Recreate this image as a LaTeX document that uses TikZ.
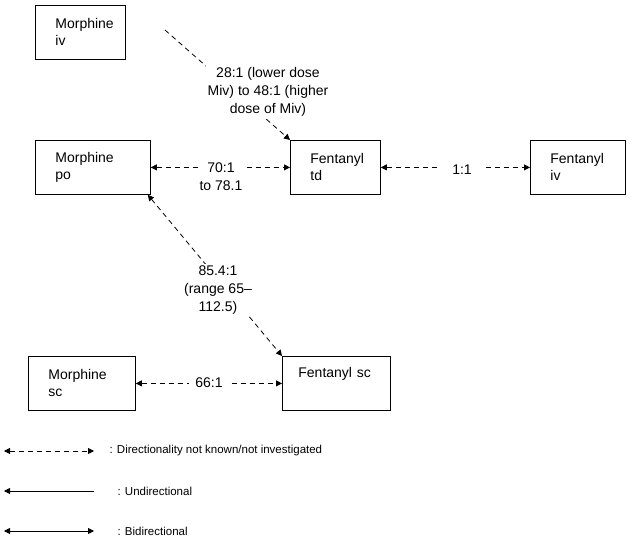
\documentclass[tikz,border=0pt]{standalone}
\usepackage{fontspec}
\setmainfont{Liberation Sans}
\usetikzlibrary{arrows.meta}
\tikzset{
 box/.style={draw, thick, minimum height=54pt, align=left, anchor=north west, font=\fontsize{14}{17}\selectfont, inner xsep=20pt},
 dashline/.style={thick, dash pattern=on 5pt off 4pt},
 lab/.style={fill=white, align=center, font=\fontsize{14}{18}\selectfont, inner sep=2pt},
 leg/.style={font=\fontsize{11.5}{14}\selectfont, anchor=west}
}
\begin{document}
\begin{tikzpicture}[x=1pt,y=-1pt,>={Triangle[length=6pt,width=6pt]}]
 \useasboundingbox (0,0) rectangle (638,538);
 % boxes
 \node[box, minimum width=90pt, text width=50pt] (miv) at (35,5) {Morphine\\iv};
 \node[box, minimum width=115pt, text width=75pt] (mpo) at (35,140) {Morphine\\po};
 \node[box, minimum width=90pt, text width=50pt] (ftd) at (290,140) {Fentanyl\\td};
 \node[box, minimum width=95pt, text width=55pt] (fiv) at (530,140) {Fentanyl\\iv};
 \node[box, minimum width=107pt, text width=67pt] (msc) at (28,356) {Morphine\\sc};
 \node[box, minimum width=108pt, text width=76pt, inner xsep=16pt] (fsc) at (282,356) {Fentanyl sc\\\strut};
 % connectors
 \coordinate (ivstart) at (165,30);
 \draw[dashline, ->] (ivstart) -- (ftd.north west);
 \node[lab] (l1) at (268,92) {28:1 (lower dose\\Miv) to 48:1 (higher\\dose of Miv)};
 \draw[dashline, <->] (mpo.east) -- (ftd.west);
 \node[lab] (l2) at (221,177) {70:1\\to 78.1};
 \draw[dashline, <->] (ftd.east) -- (fiv.west);
 \node[lab, inner xsep=12pt] (l3) at (462,170) {1:1};
 \draw[dashline, <->] ([xshift=-3pt]mpo.south east) -- (fsc.north west);
 \node[lab] (l4) at (218,290) {85.4:1\\(range 65–\\112.5)};
 \draw[dashline, <->] (msc.east) -- (fsc.west);
 \node[lab, inner xsep=6pt] (l5) at (209,383) {66:1};
 % legend
 \coordinate (a1) at (4,451); \coordinate (b1) at (94,451);
 \coordinate (a2) at (4,491); \coordinate (b2) at (94,491);
 \coordinate (a3) at (4,531); \coordinate (b3) at (94,531);
 \draw[dashline, <->] (a1) -- (b1);
 \draw[thick, <-] (a2) -- (b2);
 \draw[thick, <->] (a3) -- (b3);
 \node[leg] (t1) at (106,451) {: Directionality not known/not investigated};
 \node[leg] (t2) at (114,491) {: Undirectional};
 \node[leg] (t3) at (114,531) {: Bidirectional};
\end{tikzpicture}
\end{document}
